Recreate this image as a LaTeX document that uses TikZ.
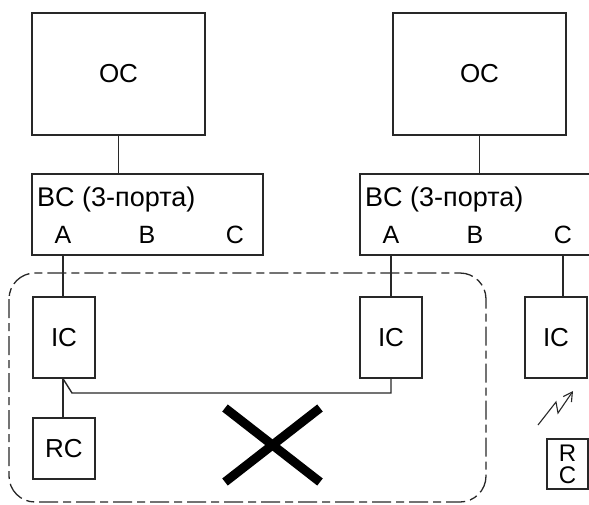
\documentclass[tikz,border=0pt]{standalone}
\usepackage{fontspec}
\setmainfont{Liberation Sans}
\usetikzlibrary{arrows.meta, positioning, calc}
\definecolor{wire}{RGB}{40,40,40}

\begin{document}
\begin{tikzpicture}[
    x=1pt, y=-1pt,
    box/.style={draw=wire, line width=1.4pt, inner sep=0pt, font=\fontsize{26}{30}\selectfont},
    port/.style={inner sep=0pt, font=\fontsize{25}{28}\selectfont},
    wireline/.style={draw=wire, line width=1.4pt}
]
\useasboundingbox (0,0) rectangle (589,504);

% Obere Ebene: OC
\node[box, minimum width=173pt, minimum height=122pt] (oc1) at (118.5, 74) {OC};
\node[box, minimum width=173pt, minimum height=122pt] (oc2) at (479.5, 74) {OC};

% BC mit drei Ports
\node[box, minimum width=231pt, minimum height=81pt] (bc1) at (147.5, 214.5) {};
\node[box, minimum width=250pt, minimum height=81pt] (bc2) at (485, 214.5) {};
\foreach \k/\xo in {1/32, 2/360} {
    \node[port, anchor=west, font=\fontsize{27}{30}\selectfont] (bct\k) at (\xo+5, 200) {BC (3-порта)};
}
\node[port] (a1) at (63, 235) {A};
\node[port] (b1) at (147, 235) {B};
\node[port] (c1) at (235, 235) {C};
\node[port] (a2) at (391, 235) {A};
\node[port] (b2) at (475, 235) {B};
\node[port] (c2) at (563, 235) {C};
\draw[wireline] (oc1.south) -- (bc1.north -| oc1.south);
\draw[wireline] (oc2.south) -- (bc2.north -| oc2.south);

% IC und RC
\node[box, minimum width=62pt, minimum height=81pt] (ic1) at (64, 337.5) {IC};
\node[box, minimum width=62pt, minimum height=81pt] (ic2) at (391, 337.5) {IC};
\node[box, minimum width=62pt, minimum height=81pt] (ic3) at (556, 337.5) {IC};
\node[box, minimum width=62pt, minimum height=61pt] (rc1) at (64, 448.5) {RC};
\node[box, minimum width=41pt, minimum height=50pt, align=center,
      font=\fontsize{24}{22}\selectfont] (rc2) at (567.5, 464) {R\\C};

\draw[wireline] (bc1.south -| a1) -- (ic1.north -| a1);
\draw[wireline] (ic1.south -| a1) -- (rc1.north -| a1);
\draw[wireline] (bc2.south -| a2) -- (ic2.north);
\draw[wireline] (bc2.south -| c2) -- (ic3.north -| c2);

% Verbindung IC -- IC
\coordinate (knick) at (72, 393);
\draw[wireline] (ic1.south -| a1) -- (knick) -- (knick -| ic2.south) -- (ic2.south);

% Funkstrecke
\coordinate (fz1) at (538, 425);
\coordinate (fz2) at (556, 402);
\coordinate (fz3) at (558, 413);
\coordinate (fz4) at (573, 391);
\draw[draw=wire, line width=1.1pt, -{Straight Barb[length=9pt, width=10pt]}] (fz1) -- (fz2) -- (fz3) -- (fz4);

% gestrichelte Gruppe
\draw[draw=wire, line width=1.3pt, rounded corners=26pt,
      dash pattern=on 19pt off 5pt on 8pt off 5pt] (9, 273) rectangle (486, 502);

% Kreuz
\draw[line width=9pt] (225, 408) -- (320, 482);
\draw[line width=9pt] (225, 482) -- (320, 408);

\end{tikzpicture}
\end{document}
